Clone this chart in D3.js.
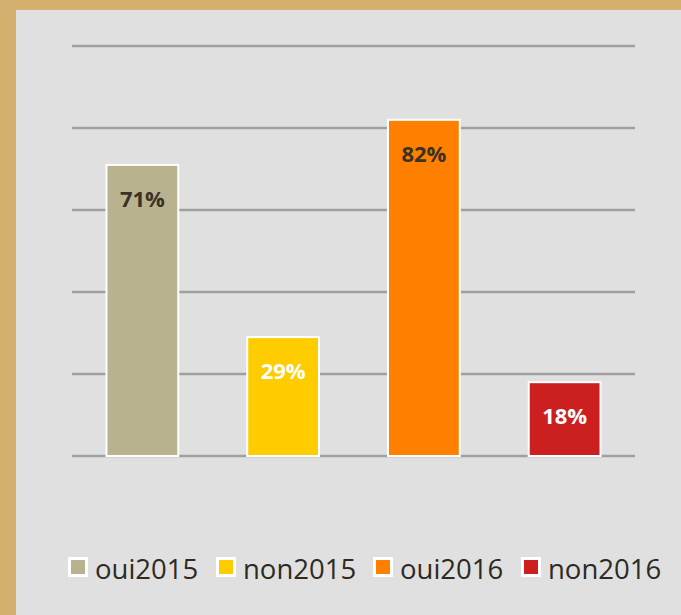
<!DOCTYPE html>
<html>
<head>
<meta charset="utf-8">
<script src="https://cdn.jsdelivr.net/npm/d3@7"></script>
<style>
  body { margin: 0; background: #D4AF6E; }
  text { font-family: "Open Sans", "Noto Sans", sans-serif; }
</style>
</head>
<body>
<script>
const categories = ["oui2015", "non2015", "oui2016", "non2016"]
const values = [71, 29, 82, 18]
const colors = ["#B8B28F", "#FFCC00", "#FF8000", "#CC1F1F"]
const labelColors = ["#3A3325", "#FFFFFF", "#3A3325", "#FFFFFF"]
const yTicks = [0, 20, 40, 60, 80, 100]

const width = 681
const height = 615
const plot = { left: 72, right: 635, top: 46, bottom: 456 }

const svg = d3.select("body").append("svg")
  .attr("width", width).attr("height", height)
  .style("display", "block")

svg.append("rect").attr("width", width).attr("height", height).attr("fill", "#D4AF6E")
svg.append("rect").attr("x", 16).attr("y", 10)
  .attr("width", width - 16).attr("height", height - 10).attr("fill", "#E0E0E0")

const x = d3.scaleBand().domain(categories)
  .range([plot.left, plot.right]).paddingInner(0.49).paddingOuter(0.245)

const y = d3.scaleLinear().domain([0, 100]).range([plot.bottom, plot.top])

// gridlines
svg.append("g").selectAll("line").data(yTicks).join("line")
  .attr("x1", plot.left).attr("x2", plot.right)
  .attr("y1", d => y(d)).attr("y2", d => y(d))
  .style("stroke", "#A0A0A0").style("stroke-width", 2.5)

const bars = svg.append("g").selectAll("g").data(categories).join("g")

bars.append("rect")
  .attr("x", d => x(d))
  .attr("y", (d, i) => y(values[i]))
  .attr("width", x.bandwidth())
  .attr("height", (d, i) => y(0) - y(values[i]))
  .attr("fill", (d, i) => colors[i])
  .style("stroke", "#FFFFFF").style("stroke-width", 2)

bars.append("text")
  .attr("x", d => x(d) + x.bandwidth() / 2)
  .attr("y", (d, i) => y(values[i]) + 34)
  .attr("dy", "0.36em")
  .attr("text-anchor", "middle")
  .style("font-size", "22px").style("font-weight", "bold")
  .attr("fill", (d, i) => labelColors[i])
  .text((d, i) => values[i] + "%")

// legend
const legendX = [68, 216, 373, 521]
const legend = svg.append("g").selectAll("g").data(categories).join("g")
  .attr("transform", (d, i) => `translate(${legendX[i]},557)`)

legend.append("rect")
  .attr("x", 1.5).attr("y", 1.5).attr("width", 17).attr("height", 17)
  .attr("fill", (d, i) => colors[i])
  .style("stroke", "#FFFFFF").style("stroke-width", 3)

legend.append("text")
  .attr("x", 27).attr("y", 22)
  .style("font-size", "27.5px").attr("fill", "#2E2A22")
  .text(d => d)
</script>
</body>
</html>
